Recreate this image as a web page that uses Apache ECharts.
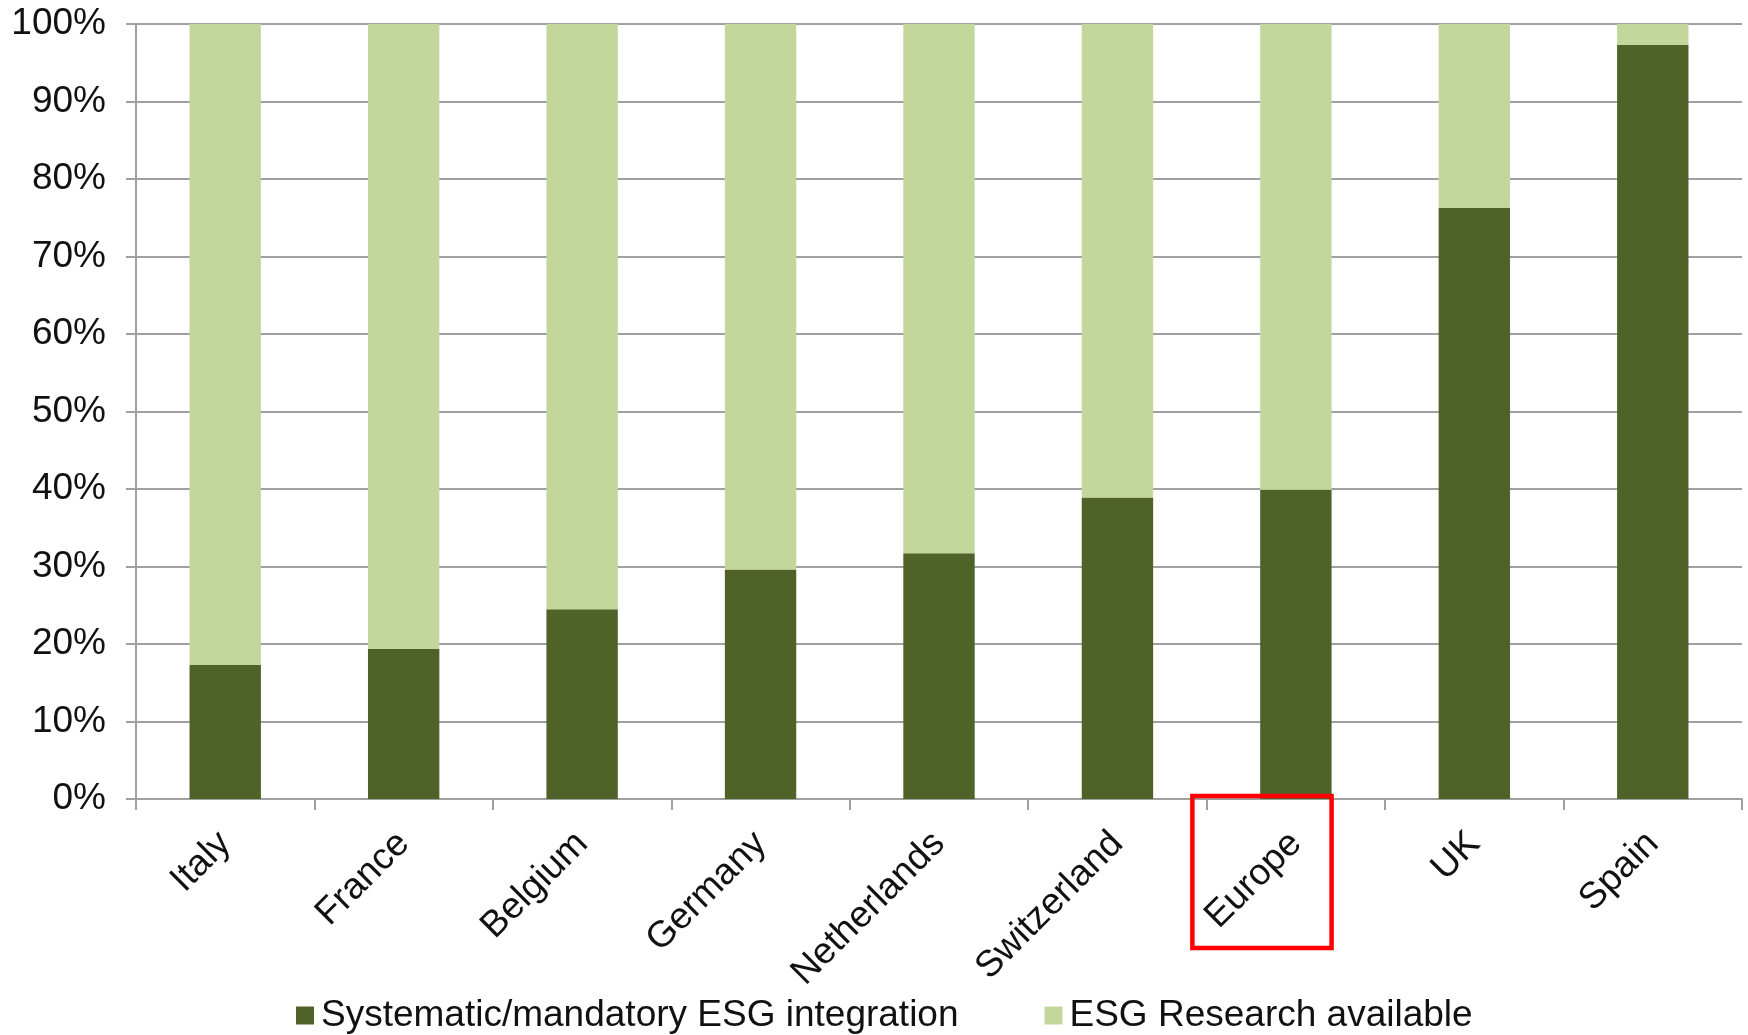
<!DOCTYPE html>
<html>
<head>
<meta charset="utf-8">
<script src="https://cdn.jsdelivr.net/npm/echarts@6/dist/echarts.min.js"></script>
<style>
  html, body { margin: 0; padding: 0; background: #fff; }
  #chart { width: 1748px; height: 1035px; }
</style>
</head>
<body>
<div id="chart"></div>
<script>
// Share of assets by country (stacked to 100%)
const categories = ['Italy', 'France', 'Belgium', 'Germany', 'Netherlands', 'Switzerland', 'Europe', 'UK', 'Spain'];
const integration = [17.3, 19.4, 24.5, 29.6, 31.7, 38.9, 39.9, 76.3, 97.3];
const research = [82.7, 80.6, 75.5, 70.4, 68.3, 61.1, 60.1, 23.7, 2.7];
const seriesNames = ['Systematic/mandatory ESG integration', 'ESG Research available'];
const highlighted = 'Europe';

const FONT = '"Liberation Sans", Arial, sans-serif';
const FONT_SIZE = 37;
const GRID_GRAY = '#A0A0A0';

const chart = echarts.init(document.getElementById('chart'));

chart.setOption({
  animation: false,
  backgroundColor: '#ffffff',
  textStyle: { fontFamily: FONT },
  grid: { left: 136, right: 6, top: 24, bottom: 236, containLabel: false },
  legend: {
    top: 992,
    left: 291,
    itemWidth: 18,
    itemHeight: 18,
    itemGap: 86,
    icon: 'rect',
    textStyle: { fontFamily: FONT, fontSize: FONT_SIZE, color: '#111', padding: [0, 0, 0, 2] },
    data: seriesNames
  },
  xAxis: {
    type: 'category',
    data: categories,
    axisLine: { show: true, lineStyle: { color: GRID_GRAY, width: 2 } },
    axisTick: { show: true, length: 11, lineStyle: { color: GRID_GRAY, width: 2 } },
    axisLabel: {
      rotate: 45,
      margin: 39,
      fontFamily: FONT,
      fontSize: FONT_SIZE,
      color: '#111'
    }
  },
  yAxis: {
    type: 'value',
    min: 0,
    max: 100,
    interval: 10,
    axisLine: { show: true, lineStyle: { color: GRID_GRAY, width: 2 } },
    axisTick: { show: true, length: 10, lineStyle: { color: GRID_GRAY, width: 2 } },
    splitLine: { show: true, lineStyle: { color: GRID_GRAY, width: 2 } },
    axisLabel: {
      formatter: '{value}%',
      margin: 30,
      fontFamily: FONT,
      fontSize: FONT_SIZE,
      color: '#111'
    }
  },
  series: [
    {
      name: seriesNames[0],
      type: 'bar',
      stack: 'total',
      barWidth: '40%',
      itemStyle: { color: '#4F6228' },
      data: integration
    },
    {
      name: seriesNames[1],
      type: 'bar',
      stack: 'total',
      barWidth: '40%',
      itemStyle: { color: '#C3D69B' },
      data: research
    }
  ]
});

// Red outline around the highlighted category label
const idx = categories.indexOf(highlighted);
const centre = chart.convertToPixel({ xAxisIndex: 0 }, idx);
const left = chart.convertToPixel({ xAxisIndex: 0 }, idx - 0.5);
const right = chart.convertToPixel({ xAxisIndex: 0 }, idx + 0.5);
const catW = right - left;
const axisY = chart.convertToPixel({ yAxisIndex: 0 }, 0);

chart.setOption({
  graphic: [{
    type: 'rect',
    shape: {
      x: centre - catW * 0.58,
      y: axisY - 3,
      width: catW * 0.78,
      height: 152
    },
    style: { fill: 'none', stroke: '#FF0000', lineWidth: 4.5 },
    z: 100
  }]
});
</script>
</body>
</html>
